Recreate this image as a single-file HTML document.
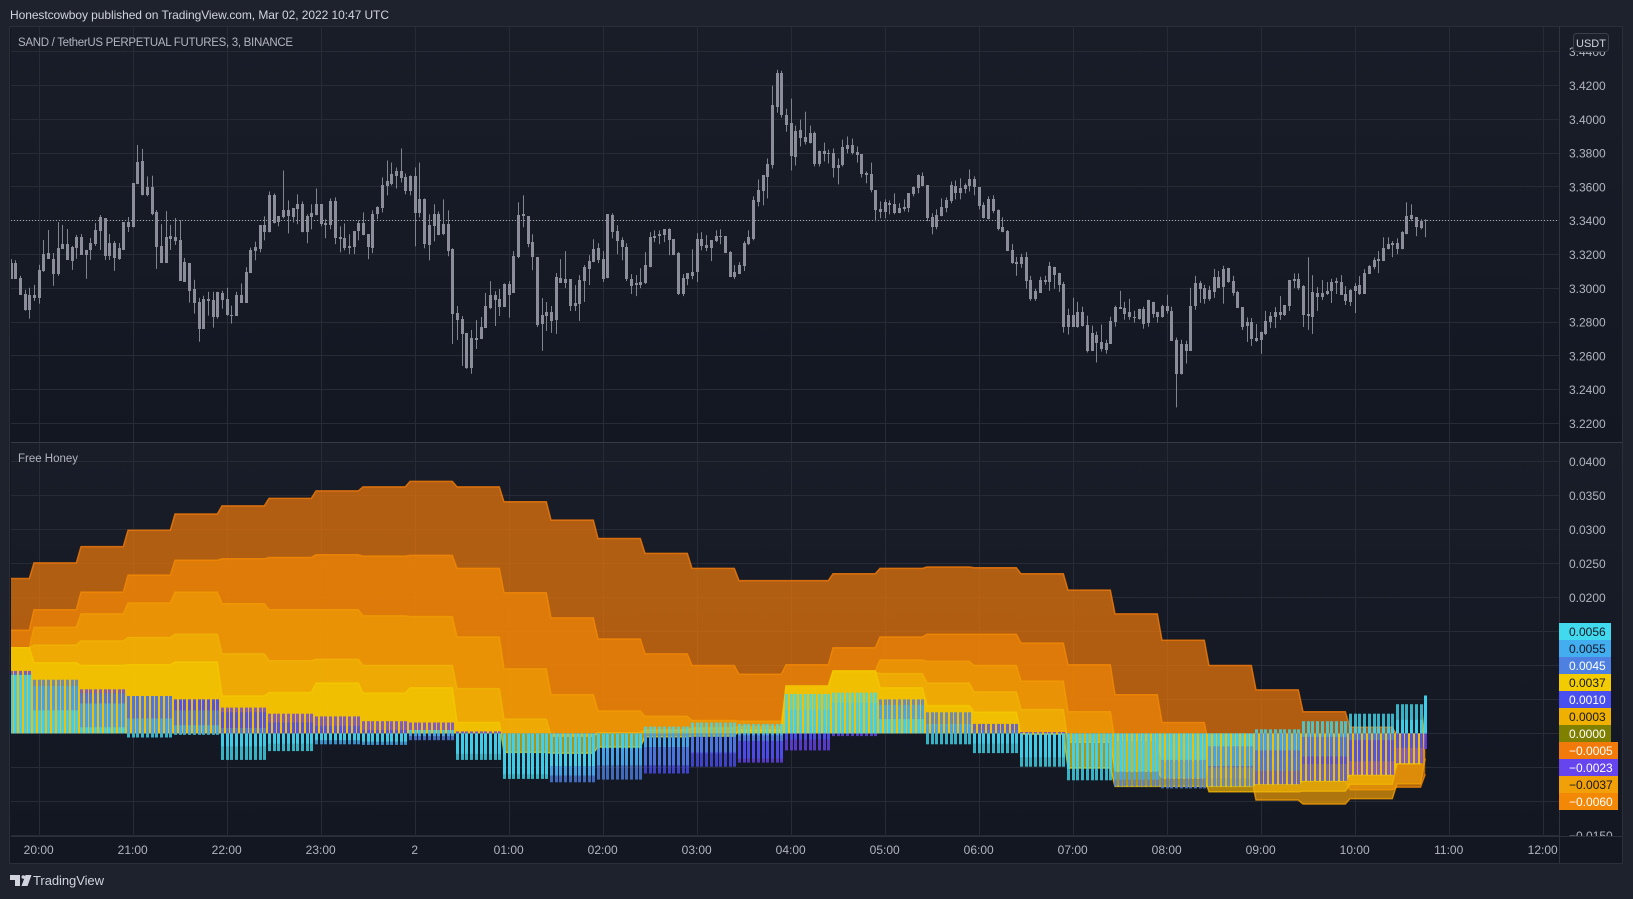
<!DOCTYPE html>
<html lang="en">
<head>
<meta charset="utf-8">
<title>SAND / TetherUS chart</title>
<style>
html,body{margin:0;padding:0;background:#1e222d;width:1633px;height:899px;overflow:hidden}
svg{display:block;font-family:"Liberation Sans",sans-serif}
</style>
</head>
<body>
<svg id="chart" xmlns="http://www.w3.org/2000/svg" width="1633" height="899" viewBox="0 0 1633 899">
  <defs>
    <linearGradient id="paneGrad" x1="0" y1="0" x2="0" y2="1"><stop offset="0" stop-color="#191d28"/><stop offset="1" stop-color="#131722"/></linearGradient>
    <clipPath id="priceClip"><rect x="11" y="27" width="1548" height="415"/></clipPath>
    <clipPath id="oscClip"><rect x="11" y="443" width="1548" height="393"/></clipPath>
    <clipPath id="axisTopClip"><rect x="1560" y="27" width="62" height="415"/></clipPath>
    <clipPath id="axisBotClip"><rect x="1560" y="443" width="62" height="393"/></clipPath>
  </defs>
  <rect x="0" y="0" width="1633" height="899" fill="#1e222d"/>
  <text x="10" y="19" font-size="12" fill="#d1d4dc" textLength="379" lengthAdjust="spacing">Honestcowboy published on TradingView.com, Mar 02, 2022 10:47 UTC</text>
  <rect x="9.5" y="26.5" width="1613" height="837" fill="#131722" stroke="#2a2e39"/>
  <rect x="11" y="27" width="1611" height="415" fill="url(#paneGrad)"/>
  <rect x="11" y="443" width="1611" height="393" fill="url(#paneGrad)"/>
  <g id="gridLayer"></g>
  <g id="oscLayer" clip-path="url(#oscClip)"></g>
  <g id="priceLayer" clip-path="url(#priceClip)"></g>
  <rect x="11" y="442" width="1611" height="1" fill="#363a45"/>
  <rect x="1559" y="27" width="1" height="836" fill="#2f333e"/>
  <rect x="11" y="836" width="1611" height="1" fill="#2c303b"/>
  <g id="priceAxis" clip-path="url(#axisTopClip)"></g>
  <g id="oscAxis" clip-path="url(#axisBotClip)"></g>
  <g id="valueLabels"></g>
  <g id="timeAxis"></g>
  <text x="18" y="46" font-size="11.5" fill="#b2b5be" textLength="275" lengthAdjust="spacing">SAND / TetherUS PERPETUAL FUTURES, 3, BINANCE</text>
  <text x="18" y="462" font-size="11.5" fill="#b2b5be" textLength="60" lengthAdjust="spacing">Free Honey</text>
  <g>
    <rect x="1573.5" y="33.5" width="35" height="18" rx="3" fill="#1c202b" stroke="#3a3e49"/>
    <text x="1591" y="47" font-size="11" fill="#d1d4dc" text-anchor="middle">USDT</text>
  </g>
  <g>
    <path d="M10 875h10v11h-5v-6h-5zM21.5 886l4-11h6l-4 11z" fill="#d1d4dc"/>
    <circle cx="23.3" cy="877" r="1.8" fill="#d1d4dc"/>
    <text x="33" y="885" font-size="13" fill="#d1d4dc" textLength="71" lengthAdjust="spacing">TradingView</text>
  </g>
</svg>
<script>
/* Candle values, in ticks of 0.0001 USDT; one entry per 3-minute bar */
var highs=[33172,33166,33074,32991,33003,33021,33139,33286,33345,33209,
33392,33375,33351,33251,33316,33321,33227,33298,33386,33434,
33416,33321,33280,33268,33392,33422,33622,33848,33825,33662,
33666,33463,33380,33457,33375,33416,33404,33180,33150,33050,
32944,32956,32979,32979,32979,32985,33003,32897,32979,33029,
33125,33241,33276,33373,33426,33573,33561,33426,33697,33520,
33473,33556,33514,33438,33497,33591,33497,33408,33532,33538,
33367,33384,33320,33337,33402,33449,33320,33461,33485,33656,
33756,33744,33715,33827,33679,33668,33715,33744,33532,33438,
33497,33455,33526,33461,33237,32895,32836,32736,32753,32812,
32830,32972,33042,32983,32995,33029,33043,33220,33509,33550,
33426,33320,33184,32942,32919,32895,33090,33172,33220,33054,
33019,33078,33137,33196,33290,33267,33220,33438,33444,33373,
33302,33267,33084,33078,33119,33214,33332,33343,33343,33349,
33355,33290,33214,33084,33090,33231,33326,33332,33314,33284,
33343,33349,33308,33220,33137,33155,33279,33343,33544,33644,
33668,33768,34199,34293,34287,34063,34122,33963,33998,34045,
33963,33927,33815,33862,33821,33827,33768,33880,33898,33886,
33839,33792,33691,33744,33579,33514,33526,33520,33562,33503,
33526,33562,33603,33674,33685,33609,33444,33467,33532,33538,
33632,33638,33650,33621,33703,33662,33597,33509,33544,33550,
33467,33420,33345,33263,33186,33204,33215,33074,32997,33068,
33074,33156,33127,33092,33038,32879,32944,32920,32891,32838,
32779,32744,32785,32696,32832,32897,32985,32920,32938,32867,
32879,32891,32932,32920,32861,32903,32962,32891,32708,32696,
32690,33003,33074,33044,33021,33015,33115,33103,33133,33121,
33074,32985,32889,32828,32824,32789,32744,32866,32860,32889,
32954,32901,33049,33088,33088,33019,33184,33078,33007,33049,
33037,33056,33062,33078,33013,32995,33031,33072,33113,33137,
33182,33220,33302,33302,33279,33296,33338,33509,33497,33420,
33408,33408];
var bodyTops=[33148,33148,33062,32968,32962,32962,33109,33203,33209,33174,
33239,33262,33262,33245,33304,33304,33227,33268,33345,33422,
33416,33268,33268,33239,33392,33392,33622,33748,33756,33597,
33597,33451,33251,33304,33310,33304,33286,33156,33150,32997,
32920,32938,32938,32932,32979,32973,32938,32844,32962,32960,
33095,33225,33243,33373,33373,33555,33555,33426,33461,33461,
33473,33497,33497,33426,33443,33497,33497,33384,33514,33514,
33302,33296,33249,33337,33384,33384,33320,33438,33479,33609,
33632,33679,33697,33697,33656,33662,33662,33526,33526,33373,
33438,33438,33379,33379,33231,32854,32818,32736,32706,32706,
32771,32895,32960,32960,32936,33025,33025,33190,33432,33438,
33426,33273,33184,32842,32858,32858,33066,33060,33054,33054,
32913,33049,33125,33161,33231,33237,33172,33438,33432,33338,
33284,33243,33054,33031,33037,33137,33302,33308,33320,33349,
33349,33290,33208,33060,33090,33096,33290,33290,33255,33284,
33308,33308,33308,33214,33096,33137,33267,33302,33520,33579,
33668,33733,34087,34275,34275,34028,33980,33933,33939,33898,
33916,33916,33815,33815,33798,33798,33727,33839,33845,33845,
33809,33792,33680,33674,33579,33467,33509,33503,33497,33473,
33479,33562,33597,33668,33662,33609,33420,33432,33479,33520,
33609,33603,33591,33609,33644,33644,33597,33491,33526,33526,
33461,33361,33339,33227,33156,33186,33186,33050,32985,33050,
33050,33133,33127,33092,33027,32844,32844,32861,32861,32785,
32738,32726,32685,32679,32808,32891,32891,32885,32861,32832,
32879,32879,32932,32920,32861,32897,32897,32867,32696,32673,
32673,32897,33033,33033,33003,32991,33068,33068,33115,33121,
33044,32979,32889,32801,32801,32706,32744,32807,32836,32860,
32860,32901,33049,33054,33054,33013,32848,32978,32972,32972,
32984,33037,33043,33037,32966,32990,33013,33019,33090,33131,
33166,33172,33237,33261,33267,33267,33332,33426,33432,33420,
33397,33402];
var bodyBottoms=[33056,33056,32962,32873,32873,32944,32944,33103,33174,33086,
33086,33233,33168,33162,33239,33198,33198,33227,33262,33339,
33192,33192,33180,33172,33227,33363,33361,33616,33555,33555,
33441,33245,33150,33150,33292,33280,33044,33038,32985,32915,
32761,32761,32926,32832,32832,32932,32844,32838,32838,32913,
32913,33090,33219,33231,33331,33331,33384,33390,33420,33426,
33420,33467,33331,33331,33420,33432,33379,33373,33373,33296,
33290,33237,33237,33243,33337,33314,33243,33237,33438,33473,
33603,33620,33662,33650,33573,33573,33443,33443,33261,33255,
33367,33314,33320,33219,32848,32812,32730,32529,32529,32694,
32700,32765,32883,32930,32889,32891,32960,32972,33184,33426,
33261,33184,32783,32789,32836,32807,32813,33031,33031,32895,
32895,32907,33043,33113,33155,33166,33054,33060,33332,33279,
33243,33054,33013,33019,33019,33031,33125,33296,33308,33314,
33284,33196,32966,32966,33054,33072,33096,33249,33237,33237,
33279,33302,33208,33066,33066,33084,33131,33261,33290,33509,
33573,33656,33727,34075,34028,33969,33780,33774,33892,33868,
33862,33733,33733,33792,33792,33709,33709,33727,33827,33803,
33786,33674,33668,33579,33461,33450,33450,33491,33444,33444,
33467,33473,33556,33591,33603,33414,33361,33361,33426,33473,
33514,33562,33562,33585,33603,33597,33485,33414,33408,33455,
33349,33332,33221,33150,33145,33145,33044,32938,32938,32974,
33038,33038,33080,33021,32773,32773,32773,32773,32779,32631,
32631,32679,32643,32637,32673,32803,32879,32850,32832,32826,
32820,32791,32797,32850,32832,32832,32867,32690,32490,32490,
32631,32631,32897,32997,32938,32938,32979,33003,33009,33038,
32974,32885,32773,32777,32701,32689,32695,32730,32801,32830,
32842,32842,32895,33043,33001,32842,32836,32830,32948,32948,
32966,32984,33031,32960,32925,32919,32984,32966,32966,33084,
33125,33161,33161,33231,33255,33231,33231,33320,33408,33361,
33355,33397];
var lows=[33056,33056,32962,32867,32820,32926,32909,33097,33174,33015,
33074,33233,33168,33109,33174,33198,33056,33168,33251,33227,
33168,33168,33103,33168,33227,33333,33361,33616,33550,33544,
33432,33115,33150,33150,33227,33257,33044,33038,32915,32850,
32684,32761,32838,32767,32820,32879,32838,32791,32838,32913,
32913,33090,33166,33213,33284,33331,33384,33367,33414,33325,
33390,33379,33331,33267,33349,33432,33367,33296,33349,33261,
33213,33225,33202,33202,33284,33314,33172,33208,33408,33449,
33550,33609,33591,33626,33556,33550,33249,33420,33237,33166,
33278,33314,33314,33190,32671,32694,32541,32523,32494,32641,
32700,32765,32877,32777,32836,32891,32826,32972,33178,33361,
33243,33107,32771,32630,32748,32736,32730,33031,33001,32866,
32866,32807,32919,33019,33155,33149,33037,33060,33296,33202,
33166,33043,32966,32954,33001,33025,33125,33273,33261,33273,
33196,33196,32960,32954,33019,33054,33037,33225,33220,33161,
33273,33261,33208,33066,33054,33084,33102,33255,33284,33485,
33491,33532,33709,34039,34010,33927,33697,33727,33839,33851,
33857,33721,33721,33750,33739,33656,33615,33721,33798,33792,
33744,33656,33621,33568,33397,33414,33414,33438,33438,33444,
33455,33450,33544,33562,33603,33397,33320,33349,33426,33450,
33503,33526,33526,33562,33573,33550,33467,33414,33408,33444,
33343,33332,33221,33145,33074,33121,32997,32926,32926,32974,
33021,32985,32997,32979,32738,32726,32773,32767,32773,32620,
32631,32561,32626,32614,32673,32773,32879,32814,32814,32797,
32814,32761,32773,32826,32797,32826,32850,32690,32295,32490,
32555,32631,32873,32914,32909,32926,32944,33003,32909,33033,
32956,32885,32754,32683,32659,32683,32612,32724,32765,32765,
32813,32836,32866,33001,32990,32771,32754,32730,32866,32931,
32960,32913,32966,32960,32901,32895,32854,32960,32966,33084,
33113,33090,33161,33231,33184,33202,33231,33320,33397,33308,
33349,33302];

/* Oscillator area series: one value per 10-bar step, plus the live bar */
var areaOne=[.0228,.0251,.0275,.0299,.0323,.0335,.0346,.0357,.0363,.0371,.0363,.0341,.0314,.0287,.0265,.0243,.0225,.0225,.0235,.0243,.0245,.0244,.0235,.0211,.0176,.0137,.0100,.0064,.0032,.0009,-.0003,-.0005];
var areaTwo=[.0152,.0182,.0208,.0233,.0255,.0257,.0259,.0263,.0261,.0262,.0243,.0207,.0170,.0139,.0117,.0100,.0087,.0101,.0126,.0142,.0146,.0146,.0133,.0101,.0057,.0016,-.0020,-.0045,-.0070,-.0083,-.0079,-.0060];
var areaThree=[.0126,.0156,.0176,.0192,.0208,.0191,.0182,.0182,.0173,.0172,.0142,.0095,.0057,.0033,.0025,.0019,.0018,.0068,.0092,.0108,.0106,.0100,.0077,.0032,-.0010,-.0040,-.0065,-.0098,-.0104,-.0096,-.0074,-.0037];
var areaFour=[.0126,.0130,.0136,.0141,.0146,.0117,.0107,.0109,.0100,.0100,.0066,.0021,-.0004,.0001,.0005,.0008,.0010,.0067,.0090,.0088,.0074,.0061,.0035,-.0013,-.0056,-.0066,-.0086,-.0086,-.0085,-.0075,-.0045,.0003];
var areaFive=[.0126,.0104,.0100,.0101,.0105,.0055,.0060,.0074,.0059,.0067,.0016,-.0028,-.0029,-.0020,-.0005,-.0004,.0005,.0070,.0092,.0067,.0041,.0031,-.0001,-.0051,-.0078,-.0078,-.0078,-.0075,-.0070,-.0061,-.0044,.0037];

/* Oscillator histogram series: same stepping */
var histCyan=[.0086,.0034,.0009,-.0006,-.0002,-.0039,-.0026,-.0010,-.0012,.0005,-.0039,-.0067,-.0048,-.0022,.0010,.0016,.0014,.0058,.0060,.0021,-.0016,-.0029,-.0049,-.0069,-.0056,-.0039,-.0019,.0006,.0018,.0029,.0043,.0056];
var histBlue=[.0086,.0070,.0044,.0022,.0012,-.0019,-.0015,-.0016,-.0017,-.0004,-.0030,-.0060,-.0062,-.0047,-.0020,-.0005,-.0003,.0035,.0045,.0042,.0014,-.0015,-.0035,-.0052,-.0068,-.0066,-.0048,-.0025,-.0005,.0007,.0020,.0055];
var histPeriwinkle=[.0088,.0079,.0059,.0055,.0034,.0008,.0000,-.0002,-.0004,-.0010,-.0010,-.0030,-.0072,-.0068,-.0047,-.0028,-.0011,.0010,.0020,.0050,.0031,.0005,-.0005,-.0025,-.0078,-.0081,-.0078,-.0055,-.0034,-.0010,.0005,.0045];
var histIndigo=[.0088,.0070,.0059,.0055,.0050,.0031,.0016,.0011,.0005,.0005,.0001,-.0005,-.0020,-.0030,-.0059,-.0049,-.0037,-.0009,-.0001,.0020,.0010,.0014,.0000,-.0010,-.0030,-.0040,-.0050,-.0075,-.0070,-.0041,-.0021,.0010];
var histPurple=[.0092,.0070,.0065,.0055,.0050,.0038,.0029,.0025,.0018,.0016,.0003,.0000,-.0010,-.0015,-.0020,-.0030,-.0043,-.0025,-.0004,.0005,.0005,.0005,.0002,-.0002,-.0010,-.0015,-.0025,-.0035,-.0045,-.0061,-.0044,-.0023];

var lastPrice=3.34;
var priceTicks=[3.44,3.42,3.40,3.38,3.36,3.34,3.32,3.30,3.28,3.26,3.24,3.22];
var oscTicks=[.04,.035,.03,.025,.02,.015,.01,.005,0,-.005,-.01,-.015];
var timeLabels=["20:00","21:00","22:00","23:00","2","01:00","02:00","03:00","04:00","05:00","06:00","07:00","08:00","09:00","10:00","11:00","12:00"];
var valueLabelText=["0.0056","0.0055","0.0045","0.0037","0.0010","0.0003","0.0000","\u22120.0005","\u22120.0023","\u22120.0037","\u22120.0060"];

var NS="http://www.w3.org/2000/svg";
var firstHourBar=6,barsPerHour=20,lastBar=highs.length-1;
function xBar(i){return 10.5+4.7*i;}
function yPrice(p){return 220.7+(3.34-p)*1690;}
function yOsc(v){return 733.4-v*6792;}
function stepOf(i){return i===lastBar?31:(i<5?0:Math.floor((i-5)/10)+1);}
function make(tag,parent,attrs){
  var e=document.createElementNS(NS,tag);
  for(var k in attrs){e.setAttribute(k,attrs[k]);}
  parent.appendChild(e);
  return e;
}
var gridLayer=document.getElementById("gridLayer");
var priceLayer=document.getElementById("priceLayer");
var oscLayer=document.getElementById("oscLayer");
var GRID="#272b36";

/* grid + axes */
priceTicks.forEach(function(p){
  var y=yPrice(p);
  var line=make("rect",gridLayer,{x:11,y:Math.floor(y),width:1548,height:1,fill:GRID,"clip-path":"url(#priceClip)"});
  
  
  var t=make("text",document.getElementById("priceAxis"),{x:1569,y:y+4.5,"font-size":12,fill:"#b2b5be"});
  
  
  t.textContent=p.toFixed(4);
});
oscTicks.forEach(function(v){
  var y=yOsc(v);
  var line=make("rect",gridLayer,{x:11,y:Math.floor(y),width:1548,height:1,fill:GRID,"clip-path":"url(#oscClip)"});
  
  
  var t=make("text",document.getElementById("oscAxis"),{x:1569,y:y+4.5,"font-size":12,fill:"#b2b5be"});
  
  
  t.textContent=(v<0?"\u2212":"")+Math.abs(v).toFixed(4);
});
timeLabels.forEach(function(label,h){
  var x=xBar(firstHourBar+h*barsPerHour);
  var a=make("rect",gridLayer,{x:Math.round(x),y:27,width:1,height:415,fill:GRID});
  
  
  var b=make("rect",gridLayer,{x:Math.round(x),y:443,width:1,height:393,fill:GRID});
  
  
  var t=make("text",document.getElementById("timeAxis"),{x:x,y:854,"font-size":12,fill:"#b2b5be","text-anchor":"middle"});
  
  
  t.textContent=label;
});

/* oscillator areas */
var areaSeries=[
  {name:"area-series-1",values:areaOne,color:"#f27a0a"},
  {name:"area-series-2",values:areaTwo,color:"#f28805"},
  {name:"area-series-3",values:areaThree,color:"#f09c05"},
  {name:"area-series-4",values:areaFour,color:"#f0b405"},
  {name:"area-series-5",values:areaFive,color:"#f2c900"}
];
areaSeries.forEach(function(s){
  var d="";
  for(var i=0;i<=lastBar;i++){
    d+=(i?"L":"M")+xBar(i).toFixed(1)+" "+yOsc(s.values[stepOf(i)]).toFixed(1);
  }
  var fill=make("path",oscLayer,{d:d+"L"+xBar(lastBar)+" "+yOsc(0)+"L"+xBar(0)+" "+yOsc(0)+"Z",fill:s.color,"fill-opacity":.7});
  
  
  var line=make("path",oscLayer,{d:d,fill:"none",stroke:s.color,"stroke-opacity":.8,"stroke-width":1.5});
  
  
});

/* oscillator histograms, tallest-drawn first */
var histSeries=[
  {name:"hist-purple",values:histPurple,color:"#6644ee"},
  {name:"hist-indigo",values:histIndigo,color:"#4a50f0"},
  {name:"hist-periwinkle",values:histPeriwinkle,color:"#4d80e0"},
  {name:"hist-blue",values:histBlue,color:"#42aef0"},
  {name:"hist-cyan",values:histCyan,color:"#40d9ee"}
];
histSeries.forEach(function(s){
  for(var i=0;i<=lastBar;i++){
    var v=s.values[stepOf(i)];
    var y0=yOsc(0),y1=yOsc(v);
    var bar=make("rect",oscLayer,{x:Math.round(xBar(i))-1,y:Math.min(y0,y1).toFixed(1),width:3,height:Math.abs(y1-y0).toFixed(1),fill:s.color,"fill-opacity":.8});
    
    
  }
});

/* last price line */
var dotted=make("line",priceLayer,{x1:11,x2:1559,y1:Math.floor(yPrice(lastPrice))+.5,y2:Math.floor(yPrice(lastPrice))+.5,stroke:"#a3a6af","stroke-width":1,"stroke-dasharray":"1 2"});



/* candles */
for(var c=0;c<=lastBar;c++){
  var bx=Math.round(xBar(c));
  var yHigh=yPrice(highs[c]/1e4),yLow=yPrice(lows[c]/1e4);
  var yTop=yPrice(bodyTops[c]/1e4),yBot=yPrice(bodyBottoms[c]/1e4);
  var wick=make("rect",priceLayer,{x:bx,y:yHigh.toFixed(1),width:1,height:Math.max(1,yLow-yHigh).toFixed(1),fill:"#808390"});
  
  
  var body=make("rect",priceLayer,{x:bx-1,y:Math.round(yTop),width:3,height:Math.max(1,Math.round(yBot)-Math.round(yTop)),fill:"#8b8e9a"});
  
  
}

/* stacked value labels */
var labelFill=["#40d9ee","#42aef0","#4d80e0","#f2cc00","#4a50f0","#f0b000","#808000","#f27a0a","#6644ee","#f2a007","#f28805"];
var labelInk=["#131722","#131722","#ffffff","#131722","#ffffff","#131722","#ffffff","#ffffff","#ffffff","#131722","#ffffff"];
valueLabelText.forEach(function(text,k){
  var group=document.getElementById("valueLabels");
  var neg=text.charAt(0)==="\u2212";
  var box=make("rect",group,{x:1559,y:623+17*k,width:neg?59:52,height:17,fill:labelFill[k]});
  
  
  var t=make("text",group,{x:1569,y:636+17*k,"font-size":12,fill:labelInk[k]});
  
  
  t.textContent=text;
});
</script>
</body>
</html>
